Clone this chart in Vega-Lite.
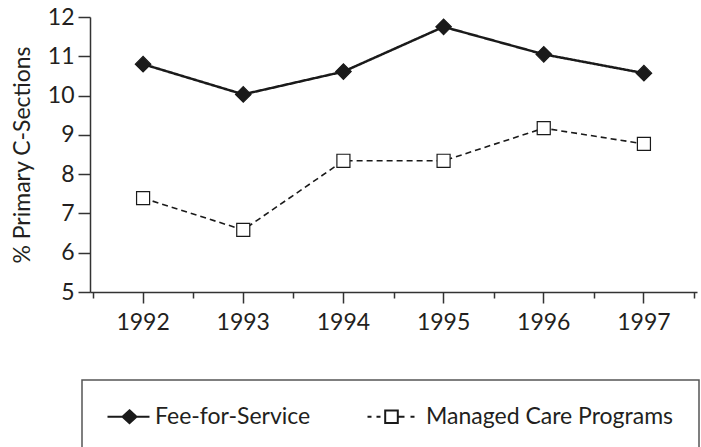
{
  "$schema": "https://vega.github.io/schema/vega-lite/v6.json",
  "width": 607,
  "height": 275,
  "autosize": "none",
  "padding": {"left": 90, "top": 17, "right": 4, "bottom": 155},
  "background": "white",
  "data": {
    "values": [
      {"year": "1992", "series": "Fee-for-Service", "value": 10.80},
      {"year": "1993", "series": "Fee-for-Service", "value": 10.03},
      {"year": "1994", "series": "Fee-for-Service", "value": 10.61},
      {"year": "1995", "series": "Fee-for-Service", "value": 11.75},
      {"year": "1996", "series": "Fee-for-Service", "value": 11.05},
      {"year": "1997", "series": "Fee-for-Service", "value": 10.57},
      {"year": "1992", "series": "Managed Care Programs", "value": 7.39},
      {"year": "1993", "series": "Managed Care Programs", "value": 6.58},
      {"year": "1994", "series": "Managed Care Programs", "value": 8.34},
      {"year": "1995", "series": "Managed Care Programs", "value": 8.34},
      {"year": "1996", "series": "Managed Care Programs", "value": 9.17},
      {"year": "1997", "series": "Managed Care Programs", "value": 8.77}
    ]
  },
  "encoding": {
    "y": {
      "field": "value",
      "type": "quantitative",
      "scale": {"domain": [5, 12], "nice": false, "zero": false},
      "axis": {
        "title": "% Primary C-Sections",
        "values": [5, 6, 7, 8, 9, 10, 11, 12],
        "grid": false,
        "tickSize": 12,
        "tickWidth": 1.5,
        "tickColor": "#333333",
        "domainColor": "#333333",
        "domainWidth": 1.5,
        "labelPadding": 4,
        "labelFont": "Lato",
        "labelFontSize": 23,
        "labelColor": "#231f20",
        "titleFont": "Lato",
        "titleFontSize": 23,
        "titleFontWeight": "normal",
        "titleColor": "#231f20",
        "titlePadding": 13
      }
    }
  },
  "layer": [
    {
      "mark": {"type": "line", "color": "#1a1a1a"},
      "encoding": {
        "x": {
          "field": "year",
          "type": "ordinal",
          "scale": {"type": "band", "paddingInner": 0, "paddingOuter": 0.03},
          "axis": {
            "orient": "bottom",
            "title": null,
            "labelAngle": 0,
            "grid": false,
            "labelFont": "Lato",
            "labelFontSize": 23,
            "labelColor": "#231f20",
            "labelPadding": 8,
            "tickSize": 11,
            "tickWidth": 1.5,
            "tickColor": "#333333",
            "domainColor": "#333333",
            "domainWidth": 1.5
          }
        },
        "detail": {"field": "series"},
        "strokeDash": {
          "field": "series",
          "type": "nominal",
          "scale": {"domain": ["Managed Care Programs", "Fee-for-Service"], "range": [[6, 4], [1, 0]]},
          "legend": null
        },
        "strokeWidth": {
          "field": "series",
          "type": "nominal",
          "scale": {"domain": ["Managed Care Programs", "Fee-for-Service"], "range": [1.6, 2.5]},
          "legend": null
        }
      }
    },
    {
      "mark": {"type": "point", "filled": true, "stroke": "#1a1a1a", "strokeWidth": 1.2, "opacity": 1},
      "encoding": {
        "x": {
          "field": "year",
          "type": "ordinal",
          "scale": {"type": "band", "paddingInner": 0, "paddingOuter": 0.03},
          "axis": {
            "orient": "bottom",
            "title": null,
            "labels": false,
            "domain": false,
            "grid": false,
            "tickBand": "extent",
            "tickSize": 6,
            "tickWidth": 1.5,
            "tickColor": "#333333"
          }
        },
        "shape": {
          "field": "series",
          "type": "nominal",
          "scale": {"domain": ["Managed Care Programs", "Fee-for-Service"], "range": ["square", "diamond"]},
          "legend": null
        },
        "size": {
          "field": "series",
          "type": "nominal",
          "scale": {"domain": ["Managed Care Programs", "Fee-for-Service"], "range": [170, 240]},
          "legend": null
        },
        "fill": {
          "field": "series",
          "type": "nominal",
          "scale": {"domain": ["Fee-for-Service", "Managed Care Programs"], "range": ["#1a1a1a", "#ffffff"]},
          "legend": {
            "title": null,
            "orient": "none",
            "legendX": -8,
            "legendY": 363,
            "direction": "horizontal",
            "padding": 25,
            "strokeColor": "#555555",
            "columnPadding": 52,
            "symbolSize": 400,
            "symbolStrokeWidth": 2,
            "symbolStrokeColor": "#1a1a1a",
            "symbolOpacity": 1,
            "labelFont": "Lato",
            "labelFontSize": 23,
            "labelColor": "#231f20",
            "labelLimit": 0,
            "labelExpr": "datum.value == 'Managed Care Programs' ? datum.label + '\u00a0\u00a0\u00a0\u00a0\u00a0\u00a0' : datum.label",
            "encode": {
              "legend": {"update": {"strokeWidth": {"value": 1.5}}},
              "symbols": {
                "update": {
                  "shape": {"signal": "datum.value == 'Fee-for-Service' ? 'M-1.1,0H3.1M1.1,-0.65L1.8,0L1.1,0.65L0.4,0Z' : 'M-1.1,0H-0.7M-0.2,0H0.2M0.67,-0.62H1.93V0.62H0.67ZM1.93,0H2.6M3.2,0H3.6'"}
                }
              },
              "labels": {
                "update": {
                  "x": {"signal": "datum.value == 'Fee-for-Service' ? 48 : 59"}
                }
              }
            }
          }
        }
      }
    }
  ],
  "resolve": {"axis": {"x": "independent"}},
  "config": {
    "view": {"stroke": null},
    "font": "Lato"
  }
}
